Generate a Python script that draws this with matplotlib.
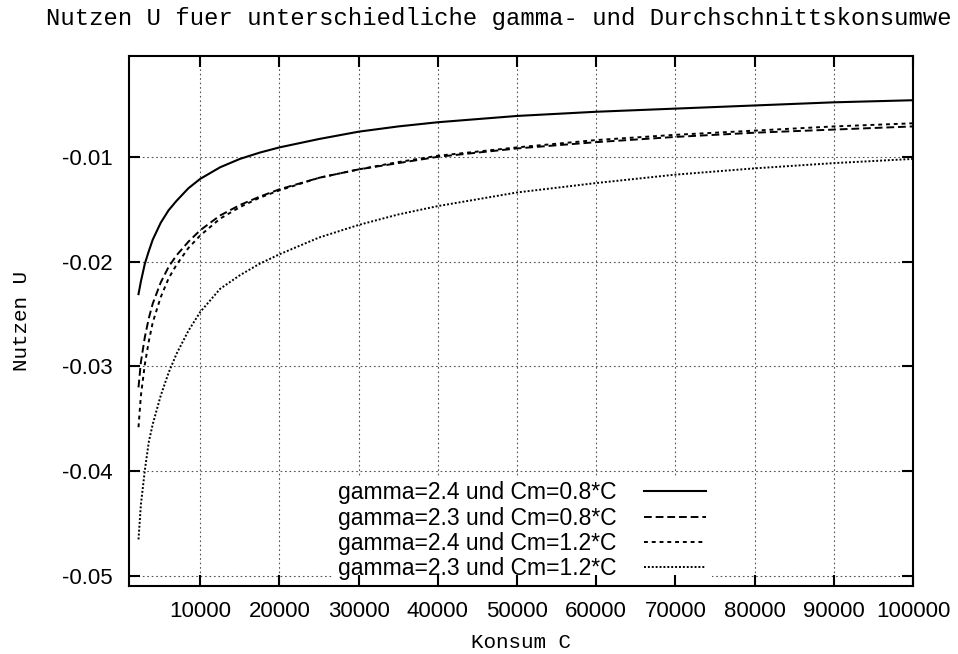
import matplotlib
matplotlib.use("Agg")
from matplotlib import pyplot as plt
from matplotlib.lines import Line2D

# Konsum C
konsum = [2200, 2500, 3000, 3500, 4000, 5000, 6000, 7000, 8500, 10000, 12500, 15000,
          17500, 20000, 25000, 30000, 35000, 40000, 50000, 60000, 70000, 80000, 90000, 100000]

# Nutzen U fuer die vier Parameterkombinationen
u_24_08 = [-0.0231, -0.0219, -0.0202, -0.0190, -0.0179, -0.0163, -0.0151, -0.0142,
           -0.0130, -0.0121, -0.0110, -0.0102, -0.0096, -0.0091, -0.0083, -0.0076,
           -0.0071, -0.0067, -0.0061, -0.0057, -0.0054, -0.0051, -0.0048, -0.0046]
u_23_08 = [-0.0320, -0.0296, -0.0272, -0.0254, -0.0240, -0.0220, -0.0205, -0.0194,
           -0.0181, -0.0170, -0.0156, -0.0146, -0.0138, -0.0131, -0.0120, -0.0112,
           -0.0106, -0.0100, -0.0092, -0.0086, -0.0081, -0.0077, -0.0074, -0.0071]
u_24_12 = [-0.0358, -0.0328, -0.0298, -0.0276, -0.0258, -0.0234, -0.0216, -0.0203,
           -0.0187, -0.0175, -0.0159, -0.0148, -0.0139, -0.0132, -0.0120, -0.0112,
           -0.0105, -0.0099, -0.0091, -0.0084, -0.0079, -0.0075, -0.0071, -0.0068]
u_23_12 = [-0.0465, -0.0432, -0.0399, -0.0372, -0.0355, -0.0328, -0.0306, -0.0288,
           -0.0266, -0.0248, -0.0226, -0.0213, -0.0202, -0.0193, -0.0177, -0.0165,
           -0.0155, -0.0147, -0.0134, -0.0125, -0.0117, -0.0111, -0.0106, -0.0102]

labels = ['gamma=2.4 und Cm=0.8*C', 'gamma=2.3 und Cm=0.8*C',
          'gamma=2.4 und Cm=1.2*C', 'gamma=2.3 und Cm=1.2*C']
x_ticks = [10000, 20000, 30000, 40000, 50000, 60000, 70000, 80000, 90000, 100000]
y_ticks = [-0.05, -0.04, -0.03, -0.02, -0.01]

MONO = ['Liberation Mono', 'DejaVu Sans Mono']
SANS = ['Liberation Sans', 'DejaVu Sans']

styles = [
    dict(linestyle='-', linewidth=1.5),
    dict(linestyle=(0, (4, 2)), linewidth=1.4),
    dict(linestyle=(0, (2, 2)), linewidth=1.4),
    dict(linestyle=(0, (1, 1)), linewidth=1.4),
]

def main():
    fig = plt.figure(figsize=(9.58, 6.54), dpi=100)
    rect = [129 / 958, 1 - 586 / 654, 784 / 958, 530 / 654]
    ax = fig.add_axes(rect)

    series = [u_24_08, u_23_08, u_24_12, u_23_12]
    for vals, st, lab in zip(series, styles, labels):
        ax.plot(konsum, vals, color='black', label=lab, **st)

    ax.set_xlim(1000, 100000)
    ax.set_ylim(-0.05095, -0.00038)
    ax.set_xticks(x_ticks)
    ax.set_yticks(y_ticks)
    ax.set_xticklabels([str(t) for t in x_ticks])
    ax.set_yticklabels(['%g' % t for t in y_ticks])
    for lab in ax.get_xticklabels() + ax.get_yticklabels():
        lab.set_family(SANS)
        lab.set_fontsize(16)
    ax.tick_params(length=0)
    ax.tick_params(axis='x', pad=11)
    ax.tick_params(axis='y', pad=12)
    for sp in ax.spines.values():
        sp.set_visible(False)
    ax.grid(True, color='#555555', linestyle=(0, (1.5, 2.5)), linewidth=0.8)

    # frame and tick marks on top, so the key box only hides grid lines
    frame = fig.add_axes(rect, sharex=ax, sharey=ax, facecolor='none')
    frame.tick_params(direction='in', length=8, width=1.5, top=True, right=True,
                      labelbottom=False, labelleft=False)
    for sp in frame.spines.values():
        sp.set_linewidth(1.5)

    handles = [Line2D([], [], color='black', **st) for st in styles]
    leg = ax.legend(handles, labels, loc='lower left', bbox_to_anchor=(0.259, 0.0),
                    markerfirst=False, handlelength=2.7, handletextpad=1.2,
                    labelspacing=0.1, borderpad=0.25, borderaxespad=0.0,
                    prop={'family': SANS, 'size': 16.5}, frameon=True, fancybox=False)
    leg.get_frame().set_facecolor('white')
    leg.get_frame().set_edgecolor('none')
    leg.get_frame().set_alpha(1)

    fig.text(46 / 958, 1 - 25 / 654,
             'Nutzen U fuer unterschiedliche gamma- und Durchschnittskonsumwe',
             family=MONO, fontsize=17.2, ha='left', va='baseline')
    ax.set_xlabel('Konsum C', family=MONO, fontsize=15, labelpad=8)
    ax.set_ylabel('Nutzen U', family=MONO, fontsize=15, labelpad=22)

    fig.savefig('out.png', dpi=100)

main()
